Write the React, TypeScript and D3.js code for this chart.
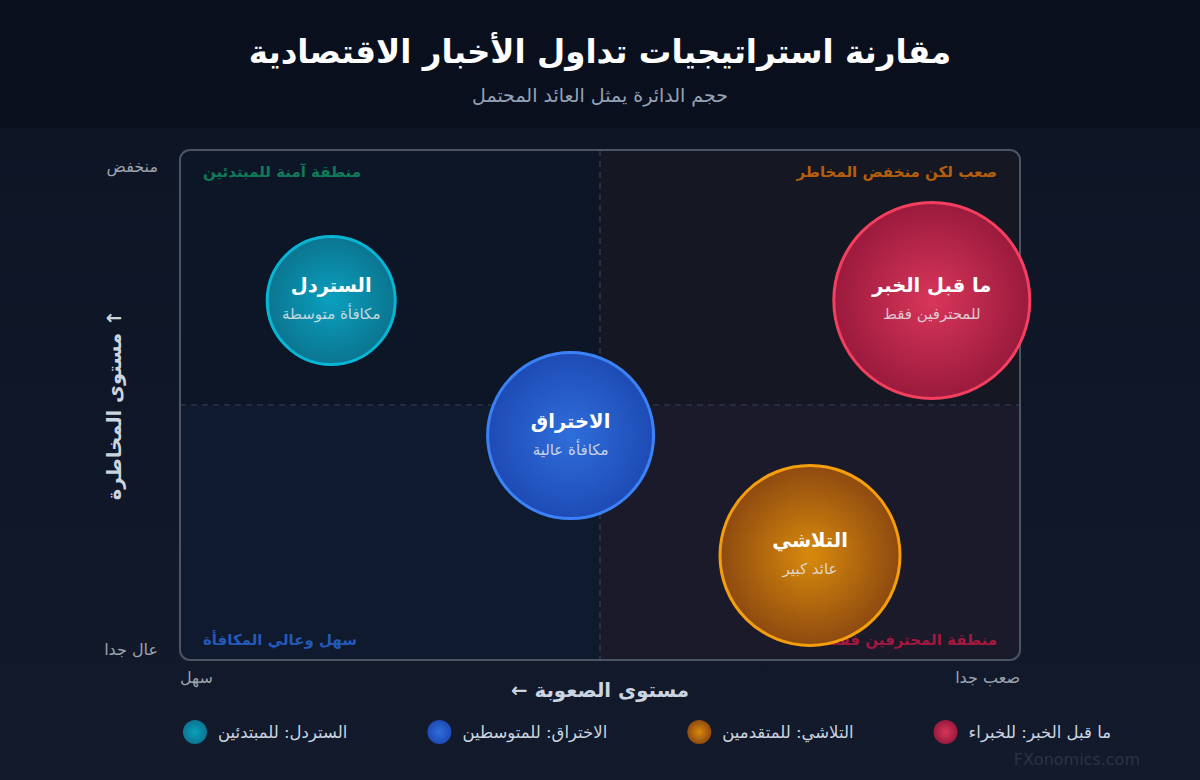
import React, { useLayoutEffect, useRef, useState } from "react";
import * as d3 from "d3";

const W = 1200;
const H = 780;

const strategies = ["الستردل", "الاختراق", "التلاشي", "ما قبل الخبر"];
const subtitles = ["مكافأة متوسطة", "مكافأة عالية", "عائد كبير", "للمحترفين فقط"];
const difficulty = [1.8, 4.65, 7.5, 8.95];
const risk = [2.95, 5.6, 7.95, 2.95];
const reward = [6.4, 8.3, 9.0, 9.8];
const legendLabels = ["الستردل: للمبتدئين", "الاختراق: للمتوسطين", "التلاشي: للمتقدمين", "ما قبل الخبر: للخبراء"];
const centerColors = ["#0aa0bf", "#2f6edb", "#d98a0c", "#d8365a"];
const edgeColors = ["#0b7590", "#1e4bb5", "#8e4a10", "#9a1a3d"];
const strokeColors = ["#06b6d4", "#3b82f6", "#f59e0b", "#f43f5e"];
const quadrantLabels = ["منطقة آمنة للمبتدئين", "صعب لكن منخفض المخاطر", "سهل وعالي المكافأة", "منطقة المحترفين فقط"];
const quadrantColors = ["#0f7a5a", "#b45f0c", "#2459b8", "#a3183f"];
const xTickLabels = ["سهل", "صعب جدا"];
const yTickLabels = ["منخفض", "عال جدا"];

const AR = "'DejaVu Sans', sans-serif";

export default function App() {
  const x = d3.scaleLinear().domain([0, 10]).range([180, 1020]);
  const y = d3.scaleLinear().domain([0, 10]).range([150, 660]);
  const r = d3.scaleLinear().domain([0, 10]).range([0, 100]);
  const [x0, x1] = x.range();
  const [y0, y1] = y.range();
  const xm = x(5);
  const ym = y(5);

  const textRefs = useRef<(SVGTextElement | null)[]>([]);
  const [widths, setWidths] = useState<number[]>(legendLabels.map(() => 138));
  useLayoutEffect(() => {
    const w = textRefs.current.map((t) => (t ? t.getComputedTextLength() : 138));
    setWidths(w);
  }, []);
  const legendStart = 183;
  const legendEnd = 1111;
  const itemW = widths.map((w) => 35 + w);
  const legendGap = (legendEnd - legendStart - d3.sum(itemW)) / (itemW.length - 1);
  const legendPos: number[] = [];
  let acc = legendStart;
  itemW.forEach((w) => {
    legendPos.push(acc);
    acc += w + legendGap;
  });

  return (
    <svg width={W} height={H} style={{ display: "block", position: "absolute", left: 0, top: 0 }}>
      <defs>
        <linearGradient id="bg" x1="0" y1="0" x2="0" y2="1">
          <stop offset="0%" stopColor="#0d1424" />
          <stop offset="100%" stopColor="#121a2b" />
        </linearGradient>
        <linearGradient id="hdr" x1="0" y1="0" x2="0" y2="1">
          <stop offset="0%" stopColor="#0a0f1d" />
          <stop offset="100%" stopColor="#0b101e" />
        </linearGradient>
        {strategies.map((_, i) => (
          <radialGradient key={i} id={`g${i}`} cx="50%" cy="50%" r="50%">
            <stop offset="0%" stopColor={centerColors[i]} />
            <stop offset="100%" stopColor={edgeColors[i]} />
          </radialGradient>
        ))}
      </defs>
      <rect x={0} y={0} width={W} height={H} fill="url(#bg)" />
      <rect x={0} y={0} width={W} height={128} fill="url(#hdr)" />

      <text x={600} y={63} textAnchor="middle" fill="#ffffff" fontSize={32.5} fontWeight="bold" fontFamily={AR}>
        مقارنة استراتيجيات تداول الأخبار الاقتصادية
      </text>
      <text x={600} y={102} textAnchor="middle" fill="#94a3b8" fontSize={19} fontFamily={AR}>
        حجم الدائرة يمثل العائد المحتمل
      </text>

      <clipPath id="plotclip">
        <rect x={x0} y={y0} width={x1 - x0} height={y1 - y0} rx={10} />
      </clipPath>
      <g clipPath="url(#plotclip)">
        <rect x={x0} y={y0} width={xm - x0} height={ym - y0} fill="#0c1627" />
        <rect x={xm} y={y0} width={x1 - xm} height={ym - y0} fill="#151722" />
        <rect x={x0} y={ym} width={xm - x0} height={y1 - ym} fill="#0f1a2e" />
        <rect x={xm} y={ym} width={x1 - xm} height={y1 - ym} fill="#1a1a2a" />
      </g>
      <line x1={xm} x2={xm} y1={y0} y2={y1} stroke="#374151" strokeWidth={1.2} strokeDasharray="6,5" />
      <line x1={x0} x2={x1} y1={ym} y2={ym} stroke="#374151" strokeWidth={1.2} strokeDasharray="6,5" />
      <rect x={x0} y={y0} width={x1 - x0} height={y1 - y0} rx={10} fill="none" stroke="#4b5563" strokeWidth={2} />

      <text x={x0 + 23} y={y0 + 27} textAnchor="start" fill={quadrantColors[0]} fontSize={15} fontWeight="bold" fontFamily={AR}>{quadrantLabels[0]}</text>
      <text x={x1 - 23} y={y0 + 27} textAnchor="end" fill={quadrantColors[1]} fontSize={15} fontWeight="bold" fontFamily={AR}>{quadrantLabels[1]}</text>
      <text x={x0 + 23} y={y1 - 15} textAnchor="start" fill={quadrantColors[2]} fontSize={15} fontWeight="bold" fontFamily={AR}>{quadrantLabels[2]}</text>
      <text x={x1 - 23} y={y1 - 15} textAnchor="end" fill={quadrantColors[3]} fontSize={15} fontWeight="bold" fontFamily={AR}>{quadrantLabels[3]}</text>

      {strategies.map((s, i) => {
        const cx = x(difficulty[i]);
        const cy = y(risk[i]);
        return (
          <g key={s}>
            <circle cx={cx} cy={cy} r={r(reward[i])} fill={`url(#g${i})`} stroke={strokeColors[i]} strokeWidth={3} />
            <text x={cx} y={cy - 8} textAnchor="middle" fill="#ffffff" fontSize={19.5} fontWeight="bold" fontFamily={AR}>{s}</text>
            <text x={cx} y={cy + 19} textAnchor="middle" fill="#e5e7eb" fillOpacity={0.85} fontSize={15} fontFamily={AR}>{subtitles[i]}</text>
          </g>
        );
      })}

      <text x={158} y={y0 + 22} textAnchor="end" fill="#9ca3af" fontSize={16} fontFamily={AR}>{yTickLabels[0]}</text>
      <text x={158} y={y1 - 5} textAnchor="end" fill="#9ca3af" fontSize={16} fontFamily={AR}>{yTickLabels[1]}</text>
      <text x={x0} y={y1 + 23} textAnchor="start" fill="#9ca3af" fontSize={16} fontFamily={AR}>{xTickLabels[0]}</text>
      <text x={x1} y={y1 + 23} textAnchor="end" fill="#9ca3af" fontSize={16} fontFamily={AR}>{xTickLabels[1]}</text>

      <text x={600} y={697} textAnchor="middle" direction="rtl" fill="#cbd5e1" fontSize={19.8} fontWeight="bold" fontFamily={AR}>
        مستوى الصعوبة ←
      </text>
      <text transform={`translate(121, ${ym}) rotate(-90)`} textAnchor="middle" direction="rtl" fill="#cbd5e1" fontSize={19.5} fontWeight="bold" fontFamily={AR}>
        ↑ مستوى المخاطرة
      </text>

      {legendLabels.map((l, i) => (
        <g key={l}>
          <circle cx={legendPos[i] + 12} cy={732} r={12} fill={`url(#g${i})`} />
          <text ref={(el) => { textRefs.current[i] = el; }} x={legendPos[i] + 35} y={738} textAnchor="start" fill="#cbd5e1" fontSize={16.5} fontFamily={AR}>{l}</text>
        </g>
      ))}

      <text x={1140} y={765} textAnchor="end" fill="#2a3447" fontSize={16} fontFamily={AR}>FXonomics.com</text>
    </svg>
  );
}
